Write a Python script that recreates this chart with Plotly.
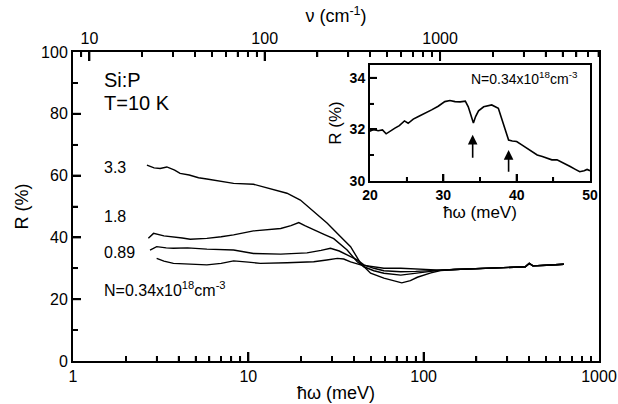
import numpy as np
import plotly.graph_objects as go

# ---------------- data ----------------
# main panel: photon energy (meV) vs reflectivity R (%)
E_33 = [2.64, 2.9, 3.14, 3.43, 3.8, 4.08, 4.6, 5.2, 5.8, 7.0, 8.24, 10.7, 13.9, 16.6,
        19.8, 23.6, 28.2, 33.6, 38.3, 43.7, 49.8, 59.3, 68, 75, 84, 92, 110, 125]
R_33 = [63.4, 62.5, 62.3, 62.8, 61.8, 60.7, 60.2, 59.3, 58.9, 58.2, 57.5, 57.2, 55.6, 54.3,
        52.1, 48.3, 44.6, 40.2, 37.0, 31.6, 28.4, 26.8, 25.8, 25.3, 26.0, 27.1, 28.5, 29.3]

E_18 = [2.69, 2.88, 3.3, 3.74, 4.2, 4.66, 5.8, 7.0, 8.24, 10.7, 13.0, 15.3, 17.5, 19.4,
        21.0, 23.6, 27.0, 30.7, 36.6, 41.8, 45.6, 52, 59.3, 74, 90, 110, 125]
R_18 = [39.7, 41.3, 40.5, 40.2, 39.8, 39.4, 39.7, 40.2, 40.8, 42.1, 42.5, 42.9, 43.8, 44.8,
        43.8, 42.4, 41.0, 39.6, 35.9, 32.1, 30.5, 29.2, 28.4, 27.8, 28.4, 29.0, 29.4]

E_089 = [2.75, 3.0, 3.4, 3.74, 4.5, 5.8, 8.24, 10.7, 15.3, 21.6, 26, 29.4, 33, 36.6,
         41.8, 45.6, 52, 59.3, 74, 90, 110, 125]
R_089 = [35.9, 37.0, 36.6, 36.5, 36.6, 36.2, 35.9, 34.8, 34.6, 35.0, 35.8, 36.5, 35.6, 34.3,
         32.7, 31.1, 30.0, 29.2, 28.9, 29.0, 29.3, 29.4]

E_034 = [3.0, 3.3, 3.74, 4.5, 5.8, 7.0, 8.24, 10.0, 11.7, 16.6, 23.6, 28, 32.2, 35,
         38.3, 43.7, 52, 59.3, 74, 90, 110, 125]
R_034 = [33.2, 32.3, 31.6, 31.3, 31.1, 31.6, 32.4, 32.0, 31.6, 31.8, 32.1, 32.7, 33.2, 33.0,
         32.1, 31.1, 30.4, 30.0, 30.0, 29.8, 29.6, 29.4]

# common high-energy tail shared by all four curves
E_tail = [150, 200, 300, 380, 400, 420, 500, 631]
R_tail = [29.6, 29.9, 30.3, 30.5, 31.6, 30.8, 31.0, 31.3]

curve_labels = ["3.3", "1.8", "0.89", "N=0.34x10<sup>18</sup>cm<sup>-3</sup>"]

# inset: N = 0.34e18 cm^-3
E_in = [19.8, 20.5, 21.1, 21.7, 22.2, 22.8, 23.4, 24.0, 24.7, 25.2, 25.9, 26.6, 27.5, 28.4,
        29.3, 30.2, 30.9, 31.6, 32.3, 33.0, 33.4, 33.8, 34.1, 34.4, 34.8, 35.5, 36.6, 37.5,
        38.2, 38.9, 39.4, 40.0, 40.7, 41.4, 42.1, 42.8, 43.5, 44.1, 44.8, 45.5, 46.4, 47.3,
        48.0, 48.6, 49.2, 49.6, 50.0]
R_in = [31.91, 32.0, 31.95, 31.98, 31.83, 31.95, 32.05, 32.15, 32.33, 32.24, 32.4, 32.5, 32.62, 32.76,
        32.9, 33.08, 33.12, 33.08, 33.07, 33.1, 32.88, 32.5, 32.25, 32.5, 32.72, 32.88, 32.95, 32.82,
        32.24, 31.59, 31.55, 31.53, 31.4, 31.27, 31.12, 31.01, 30.95, 30.88, 30.82, 30.82, 30.7, 30.56,
        30.45, 30.36, 30.4, 30.45, 30.4]
arrow_E = [34.0, 38.9]
arrow_head = [31.79, 31.2]
arrow_tail = [30.84, 30.3]

MEV_TO_CM = 8.0655

# ticks
x_major = [1, 10, 100, 1000]
x_minor = [m * d for d in (1, 10, 100) for m in range(2, 10)]
y_major = [0, 20, 40, 60, 80, 100]
y_minor = [10, 30, 50, 70, 90]
nu_major = [10, 100, 1000]
nu_minor = [m * d for d in (1, 10, 100, 1000) for m in range(2, 10)
            if 8.0655 < m * d < 8065.5 and m * d not in (10, 100, 1000)]
in_x_major = [20, 30, 40, 50]
in_x_minor = [25, 35, 45]
in_y_major = [30, 32, 34]
in_y_minor = [31, 33]

FONT = "Liberation Sans"
W, H = 618, 404
L, R, T, B = 73, 19, 52, 43
PW, PH = W - L - R, H - T - B


def px2paper(px, py):
    return (px - L) / PW, (H - B - py) / PH


ix0, iy0 = px2paper(370, 181)
ix1, iy1 = px2paper(590, 65)
NU_RANGE = [np.log10(MEV_TO_CM), np.log10(1000 * MEV_TO_CM)]

fig = go.Figure()
line = dict(color="black", width=1.4)
for e, r in [(E_33, R_33), (E_18, R_18), (E_089, R_089), (E_034, R_034)]:
    fig.add_trace(go.Scatter(x=e + E_tail, y=r + R_tail, mode="lines", line=line,
                             showlegend=False, xaxis="x", yaxis="y"))

# same 3.3 curve expressed in wavenumber, fully transparent: it only carries the top axis
fig.add_trace(go.Scatter(x=[e * MEV_TO_CM for e in E_33 + E_tail], y=R_33 + R_tail, mode="lines",
                         line=dict(color="rgba(0,0,0,0)", width=0), showlegend=False,
                         hoverinfo="skip", xaxis="x3", yaxis="y"))

fig.add_trace(go.Scatter(x=E_in, y=R_in, mode="lines", line=dict(color="black", width=1.6),
                         showlegend=False, xaxis="x2", yaxis="y2"))

TICK = dict(showgrid=False, zeroline=False, ticks="inside", tickcolor="black", tickwidth=2,
            showline=True, linecolor="black", linewidth=2)


def minor(vals, ln):
    return dict(tickvals=vals, ticks="inside", ticklen=ln, tickcolor="black",
                tickwidth=1.5, showgrid=False)


fig.update_layout(
    width=W, height=H,
    margin=dict(l=L, r=R, t=T, b=B, autoexpand=False),
    plot_bgcolor="rgba(0,0,0,0)", paper_bgcolor="white",
    font=dict(family=FONT, color="black", size=16),
    xaxis=dict(TICK, type="log", range=[0, 3], domain=[0, 1], anchor="y",
               tickvals=x_major, ticktext=[str(v) for v in x_major], ticklen=9,
               minor=minor(x_minor, 5), tickfont=dict(size=16),
               title=dict(text="ħω (meV)", font=dict(size=18), standoff=2)),
    yaxis=dict(TICK, range=[0, 100], domain=[0, 1], anchor="x", mirror=True,
               tickvals=y_major, ticklen=8, minor=minor(y_minor, 5), tickfont=dict(size=16),
               title=dict(text="R (%)", font=dict(size=18), standoff=8)),
    xaxis3=dict(TICK, type="log", domain=[0, 1], side="top", anchor="y", range=NU_RANGE,
                tickvals=nu_major, ticktext=[str(v) for v in nu_major], ticklen=9,
                minor=minor(nu_minor, 5), tickfont=dict(size=16),
                title=dict(text="ν (cm<sup>-1</sup>)", font=dict(size=18), standoff=2)),
    xaxis2=dict(TICK, range=[20, 50], domain=[ix0, ix1], anchor="y2", mirror=True,
                tickvals=in_x_major, ticklen=7, minor=minor(in_x_minor, 4),
                tickfont=dict(size=14, weight="bold"),
                title=dict(text="ħω (meV)", font=dict(size=17), standoff=0)),
    yaxis2=dict(TICK, range=[30, 34.5], domain=[iy0, iy1], anchor="x2", mirror=True,
                tickvals=in_y_major, ticklen=7, minor=minor(in_y_minor, 4),
                tickfont=dict(size=14, weight="bold"),
                title=dict(text="R (%)", font=dict(size=17), standoff=4)),
)

# tick marks also drawn as pixel-sized shapes placed at the tick values on each axis
shapes = []


def xticks(vals, xref, yref, yanchor, ln, width, sign=1):
    for v in vals:
        shapes.append(dict(type="line", xref=xref, x0=v, x1=v, yref=yref, ysizemode="pixel",
                           yanchor=yanchor, y0=0, y1=sign * ln, layer="above",
                           line=dict(color="black", width=width)))


def yticks(vals, yref, xref, xanchor, ln, width):
    for v in vals:
        shapes.append(dict(type="line", yref=yref, y0=v, y1=v, xref=xref, xsizemode="pixel",
                           xanchor=xanchor, x0=0, x1=ln, layer="above",
                           line=dict(color="black", width=width)))


xticks(x_major[1:-1], "x", "paper", 0, 9, 2)
xticks(x_minor, "x", "paper", 0, 5, 1.5)
xticks(nu_major, "x3", "paper", 1, 9, 2, sign=-1)
xticks(nu_minor, "x3", "paper", 1, 5, 1.5, sign=-1)
yticks(y_major[1:-1], "y", "paper", 0, 8, 2)
yticks(y_minor, "y", "paper", 0, 5, 1.5)
xticks(in_x_major[1:-1], "x2", "y2", in_y_major[0], 7, 2)
xticks(in_x_minor, "x2", "y2", in_y_major[0], 4, 1.5)
yticks(in_y_major[1:], "y2", "x2", in_x_major[0], 7, 2)
yticks(in_y_minor, "y2", "x2", in_x_major[0], 4, 1.5)
fig.update_layout(shapes=shapes)

anns = []
# panel labels
for txt, py in [("Si:P", 80), ("T=10 K", 103)]:
    x, y = px2paper(102, py)
    anns.append(dict(text=txt, x=x, y=y, xref="paper", yref="paper", showarrow=False,
                     xanchor="left", yanchor="middle", font=dict(size=20)))
for txt, py in zip(curve_labels, [167, 216, 253, 289]):
    x, y = px2paper(102, py)
    anns.append(dict(text=txt, x=x, y=y, xref="paper", yref="paper", showarrow=False,
                     xanchor="left", yanchor="middle", font=dict(size=16)))
# inset label
x, y = px2paper(580, 78)
anns.append(dict(text="N=0.34x10<sup>18</sup>cm<sup>-3</sup>", x=x, y=y, xref="paper", yref="paper",
                 showarrow=False, xanchor="right", yanchor="middle", font=dict(size=14)))
# arrows in inset
for e, h, t in zip(arrow_E, arrow_head, arrow_tail):
    anns.append(dict(x=e, y=h, ax=e, ay=t, xref="x2", yref="y2", axref="x2", ayref="y2",
                     showarrow=True, arrowhead=2, arrowsize=1.2, arrowwidth=1.6,
                     arrowcolor="black", text=""))
fig.update_layout(annotations=anns)

fig.write_html("out.html")
